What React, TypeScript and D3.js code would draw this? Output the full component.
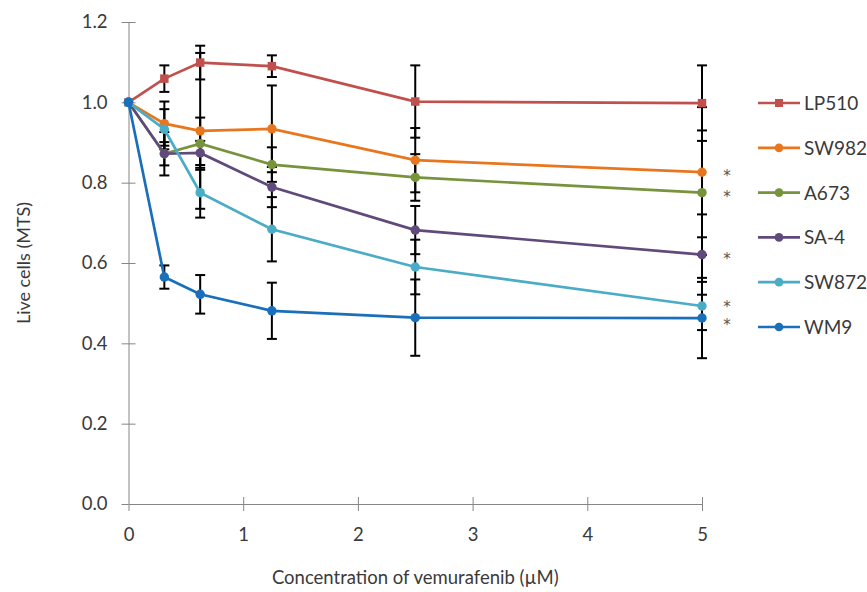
import React from 'react';
import * as d3 from 'd3';

const concentrations = [0, 0.3125, 0.625, 1.25, 2.5, 5];
const lineNames = ['LP510', 'SW982', 'A673', 'SA-4', 'SW872', 'WM9'];

const lp510 = [1.0, 1.059, 1.099, 1.09, 1.002, 0.998];
const sw982 = [1.0, 0.947, 0.929, 0.934, 0.856, 0.826];
const a673 = [1.0, 0.872, 0.897, 0.845, 0.813, 0.775];
const sa4 = [1.0, 0.872, 0.874, 0.789, 0.682, 0.621];
const sw872 = [1.0, 0.933, 0.775, 0.684, 0.59, 0.493];
const wm9 = [1.0, 0.565, 0.522, 0.481, 0.464, 0.463];

const lp510Err = [0, 0.033, 0.042, 0.027, 0.09, 0.094];
const sw982Err = [0, 0.055, 0.194, 0.108, 0.08, 0.162];
const a673Err = [0, 0.054, 0.065, 0.043, 0.058, 0.155];
const sa4Err = [0, 0.029, 0.03, 0.05, 0.06, 0.1];
const sw872Err = [0, 0.05, 0.062, 0.08, 0.068, 0.06];
const wm9Err = [0, 0.029, 0.048, 0.07, 0.095, 0.1];

// lines marked with * at 5 uM
const significant = ['SW982', 'A673', 'SA-4', 'SW872', 'WM9'];

const yTicks = [0, 0.2, 0.4, 0.6, 0.8, 1.0, 1.2];
const xTicks = [0, 1, 2, 3, 4, 5];

const colors = ['#c0504d', '#e8761e', '#77933c', '#5f4a7b', '#4bacc6', '#1a6fba'];
const markers = ['square', 'circle', 'circle', 'circle', 'circle', 'circle'];

const allValues = [lp510, sw982, a673, sa4, sw872, wm9];
const allErrors = [lp510Err, sw982Err, a673Err, sa4Err, sw872Err, wm9Err];

const font = 'Lato, "Open Sans", sans-serif';
const textColor = '#3a3a3a';

export default function App() {

    const container = React.useRef<SVGGElement>(null);

    const width = 867, height = 592;
    const plot = { left: 128.5, right: 702, top: 22, bottom: 504 };

    React.useEffect(() => {

        if (!container.current) return;

        const g = d3.select(container.current);
        g.selectAll('*').remove();

        const x = d3.scaleLinear().domain([0, 5]).range([plot.left, plot.right]);
        const y = d3.scaleLinear().domain([0, 1.2]).range([plot.bottom, plot.top]);

        const series = lineNames.map((name, i) => ({
            name,
            color: colors[i],
            marker: markers[i],
            points: concentrations.map((c, j) => ({ c, v: allValues[i][j], e: allErrors[i][j] }))
        }));

        // axes
        const yAxis = d3.axisLeft(y).tickValues(yTicks).tickFormat(d3.format('.1f')).tickSize(7).tickPadding(14).tickSizeOuter(0);
        const yg = g.append('g').attr('transform', `translate(${plot.left},0)`).call(yAxis);
        yg.select('.domain').attr('stroke', '#868686');
        yg.selectAll('.tick line').attr('stroke', '#868686').attr('x1', 7).attr('x2', -7);
        yg.selectAll('.tick text').attr('fill', textColor).style('font-size', '18.5px').style('font-family', font);

        const xAxis = d3.axisBottom(x).tickValues(xTicks).tickFormat(d3.format('d')).tickSize(7).tickSizeOuter(0);
        const xg = g.append('g').attr('transform', `translate(0,${plot.bottom})`).call(xAxis);
        xg.select('.domain').attr('stroke', '#868686');
        xg.selectAll('.tick line').attr('stroke', '#868686').attr('y1', -7).attr('y2', 7);
        xg.selectAll('.tick text').attr('fill', textColor).attr('y', 37).attr('dy', null)
            .style('font-size', '18.5px').style('font-family', font);
        // first x tick only goes down
        xg.select('.tick line').attr('y1', 0);
        yg.selectAll('.tick line').filter((d: any) => d === 0).attr('x1', 0);

        // error bars
        const capW = 5;
        series.forEach(s => {
            const bars = g.append('g').attr('stroke', '#000').attr('stroke-width', 2);
            s.points.filter(p => p.e > 0).forEach(p => {
                const cx = x(p.c);
                bars.append('line').attr('x1', cx).attr('x2', cx).attr('y1', y(p.v + p.e)).attr('y2', y(p.v - p.e));
                bars.append('line').attr('x1', cx - capW).attr('x2', cx + capW).attr('y1', y(p.v + p.e)).attr('y2', y(p.v + p.e));
                bars.append('line').attr('x1', cx - capW).attr('x2', cx + capW).attr('y1', y(p.v - p.e)).attr('y2', y(p.v - p.e));
            });
        });

        const line = d3.line<{ c: number, v: number }>().x(d => x(d.c)).y(d => y(d.v));

        series.forEach(s => {
            g.append('path').datum(s.points).attr('d', line as any)
                .attr('fill', 'none').attr('stroke', s.color).attr('stroke-width', 2.7);
            const sym = d3.symbol().type(s.marker === 'square' ? d3.symbolSquare : d3.symbolCircle).size(s.marker === 'square' ? 72 : 70);
            g.append('g').selectAll('path').data(s.points).join('path')
                .attr('d', sym as any)
                .attr('transform', d => `translate(${x(d.c)},${y(d.v)})`)
                .attr('fill', s.color);
        });

        // asterisks (the two lowest ones are nudged apart a little)
        const nudge: Record<string, number> = { SW872: -3, WM9: 3 };
        series.filter(s => significant.includes(s.name)).forEach(s => {
            const last = s.points[s.points.length - 1];
            g.append('text').attr('x', plot.right + 25).attr('y', y(last.v) + 9 + (nudge[s.name] || 0))
                .attr('text-anchor', 'middle').attr('fill', '#555')
                .style('font-size', '15px').style('font-family', '"DejaVu Sans", sans-serif').text('*');
        });

        // legend
        const legend = g.append('g').attr('transform', 'translate(758,103)');
        series.forEach((s, i) => {
            const row = legend.append('g').attr('transform', `translate(0,${i * 44.8})`);
            row.append('line').attr('x1', 0).attr('x2', 42).attr('stroke', s.color).attr('stroke-width', 2.7);
            const sym = d3.symbol().type(s.marker === 'square' ? d3.symbolSquare : d3.symbolCircle).size(s.marker === 'square' ? 64 : 60);
            row.append('path').attr('d', sym as any).attr('transform', 'translate(21,0)').attr('fill', s.color);
            row.append('text').attr('x', 46).attr('y', 7).attr('fill', textColor)
                .style('font-size', '19px').style('font-family', font).text(s.name);
        });

        // titles
        g.append('text').attr('x', (plot.left + plot.right) / 2).attr('y', 584)
            .attr('text-anchor', 'middle').attr('fill', textColor)
            .style('font-size', '18.5px').style('font-family', font)
            .text('Concentration of vemurafenib (µM)');
        g.append('text').attr('transform', `translate(30,${(plot.top + plot.bottom) / 2}) rotate(-90)`)
            .attr('text-anchor', 'middle').attr('fill', textColor)
            .style('font-size', '18px').style('font-family', font)
            .text('Live cells (MTS)');

    }, []);

    return <div style={{ position: 'absolute', left: 0, top: 0 }}>
        <svg width={width} height={height} style={{ display: 'block', background: '#fff' }}>
            <g ref={container} />
        </svg>
    </div>
}
